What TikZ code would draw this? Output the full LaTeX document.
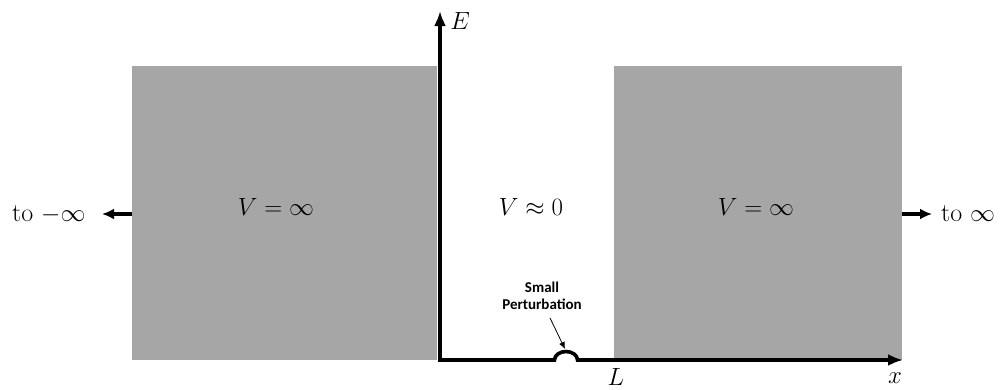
\documentclass[tikz,border=0pt]{standalone}
\usepackage{fontspec}
\newfontfamily\calib{Carlito}
\usetikzlibrary{arrows.meta}
\definecolor{wallgray}{RGB}{166,166,166}
\tikzset{
  wall/.style={fill=wallgray, draw=none, inner sep=0pt, anchor=north west},
  axisline/.style={line width=3.6pt, line join=miter},
  farrow/.style={line width=3.4pt, -{Latex[length=12pt,width=11pt]}},
  mathlab/.style={font=\fontsize{26}{30}\selectfont, inner sep=0pt},
  vlab/.style={font=\fontsize{28}{33}\selectfont, inner sep=0pt},
  smalllab/.style={font=\calib\bfseries\fontsize{15}{18}\selectfont, align=center, inner sep=0pt},
}
\begin{document}
\begin{tikzpicture}[x=1pt,y=-1pt]
\useasboundingbox (0,0) rectangle (1002,389);
% walls
\node[wall, minimum width=305pt, minimum height=294pt] (leftwall) at (132,66) {};
\node[wall, minimum width=288pt, minimum height=294pt] (rightwall) at (614,66) {};
% axes
\coordinate (etop) at (440,11);
\coordinate (origin) at (440,360);
\coordinate (bumpL) at (554.5,360);
\coordinate (xend) at (903,360);
\draw[axisline, {Latex[length=15pt,width=12pt]}-{Latex[length=15pt,width=12pt]}]
  (etop) -- (origin) -- (bumpL) arc[start angle=180, end angle=0, x radius=11.5pt, y radius=8.5pt] -- (xend);
% axis labels
\node[mathlab] (Elab) at (460,21) {$E$};
\node[mathlab] (xlab) at (895,378) {$x$};
\node[mathlab] (Llab) at (616,377) {$L$};
% potentials
\node[vlab] (vleft) at (276,207) {$V=\infty$};
\node[vlab] (vmid) at (531,207) {$V\approx 0$};
\node[vlab] (vright) at (756,207) {$V=\infty$};
% to infinity
\node[mathlab, anchor=west] (tominus) at (12,215) {to $-\infty$};
\coordinate (lstart) at (132,214);
\coordinate (lend) at (102,214);
\draw[farrow] (lstart) -- (lend);
\node[mathlab, anchor=west] (toplus) at (941,214) {to $\infty$};
\coordinate (rstart) at (902,214);
\coordinate (rend) at (932,214);
\draw[farrow] (rstart) -- (rend);
% perturbation label
\node[smalllab] (pert) at (542,296) {Small\\[-1pt]Perturbation};
\coordinate (bumptop) at (565,349);
\coordinate (pertfoot) at (550,318);
\draw[line width=0.8pt, -{Latex[length=7pt,width=6pt]}] (pertfoot) -- (bumptop);
\end{tikzpicture}
\end{document}
